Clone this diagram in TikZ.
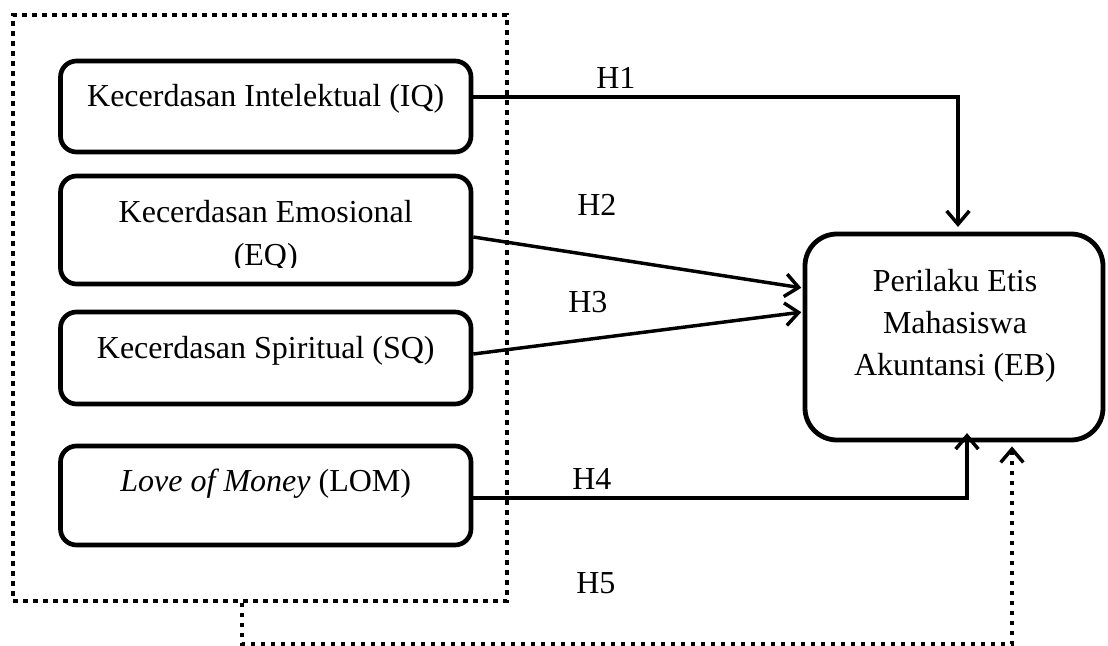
\documentclass[tikz,border=0pt]{standalone}
\usepackage{fontspec}
\setmainfont{Liberation Serif}
\usetikzlibrary{arrows.meta}
\begin{document}
\begin{tikzpicture}[x=0.75pt,y=-0.75pt,
  varbox/.style={draw, line width=3.5pt, rounded corners=12pt, minimum width={410.5*0.75pt}, inner sep=0pt},
  ebbox/.style={draw, line width=3.6pt, rounded corners=24pt, minimum width={298*0.75pt}, minimum height={206*0.75pt}, inner sep=0pt},
  grpbox/.style={draw, line width=3.6pt, dash pattern=on 3.7pt off 3.8pt, minimum width={494*0.75pt}, minimum height={586*0.75pt}, inner sep=0pt},
  txt/.style={font=\fontsize{24pt}{33pt}\selectfont, inner sep=0pt, anchor=base},
  lbl/.style={font=\fontsize{24pt}{33pt}\selectfont, inner sep=0pt, anchor=base west},
  link/.style={line width=2.6pt, -{Straight Barb[length=10pt,width=17pt]}},
  dlink/.style={line width=2.6pt, dash pattern=on 2.6pt off 4.9pt, -{Straight Barb[length=10pt,width=17pt]}}
]
\useasboundingbox (0,0) rectangle (1108,646);
% group frame
\node[grpbox] (grp) at (260,308) {};
% variable boxes
\node[varbox, minimum height={91*0.75pt}] (iq) at (265.75,106.5) {};
\node[varbox, minimum height={108*0.75pt}] (eq) at (265.75,230) {};
\node[varbox, minimum height={92*0.75pt}] (sq) at (265.75,358) {};
\node[varbox, minimum height={99*0.75pt}] (lom) at (265.75,495.5) {};
\node[ebbox] (eb) at (954,337) {};
% texts
\node[txt] (iqt) at (265.75,106) {Kecerdasan Intelektual (IQ)};
\node[txt] (eqt1) at (265.75,222) {Kecerdasan Emosional};
\begin{scope}
\clip (60,180) rectangle (472,267.5);
\node[txt] (eqt2) at (265.75,265) {(EQ)};
\end{scope}
\node[txt] (sqt) at (265.75,358) {Kecerdasan Spiritual (SQ)};
\node[txt] (lomt) at (265.75,491) {\textit{Love of Money} (LOM)};
\node[txt] (ebt1) at (955,291) {Perilaku Etis};
\node[txt] (ebt2) at (955,333) {Mahasiswa};
\node[txt] (ebt3) at (955,375) {Akuntansi (EB)};
% hypothesis labels
\node[lbl] (h1) at (596,88) {H1};
\node[lbl] (h2) at (577,215) {H2};
\node[lbl] (h3) at (568,312) {H3};
\node[lbl] (h4) at (572,489) {H4};
\node[lbl] (h5) at (576,593) {H5};
% connectors
\draw[link, shorten >=3.5pt] (iq.east |- 0,97) -- (958,97) -- (958,0 |- eb.north);
\draw[line width=2.6pt] (958,95) -- (958,99);
\draw[link, shorten >=1pt] (eq.east |- 0,237) -- (eb.west |- 0,288);
\draw[link, shorten >=1pt] (sq.east |- 0,354) -- (eb.west |- 0,312);
\draw[link, shorten >=-7pt] (lom.east |- 0,498) -- (967,498) -- (967,0 |- eb.south);
\draw[dlink, shorten >=3pt] (242,0 |- grp.south) -- (242,644) -- (1012,644) -- (1012,0 |- eb.south);
\end{tikzpicture}
\end{document}
